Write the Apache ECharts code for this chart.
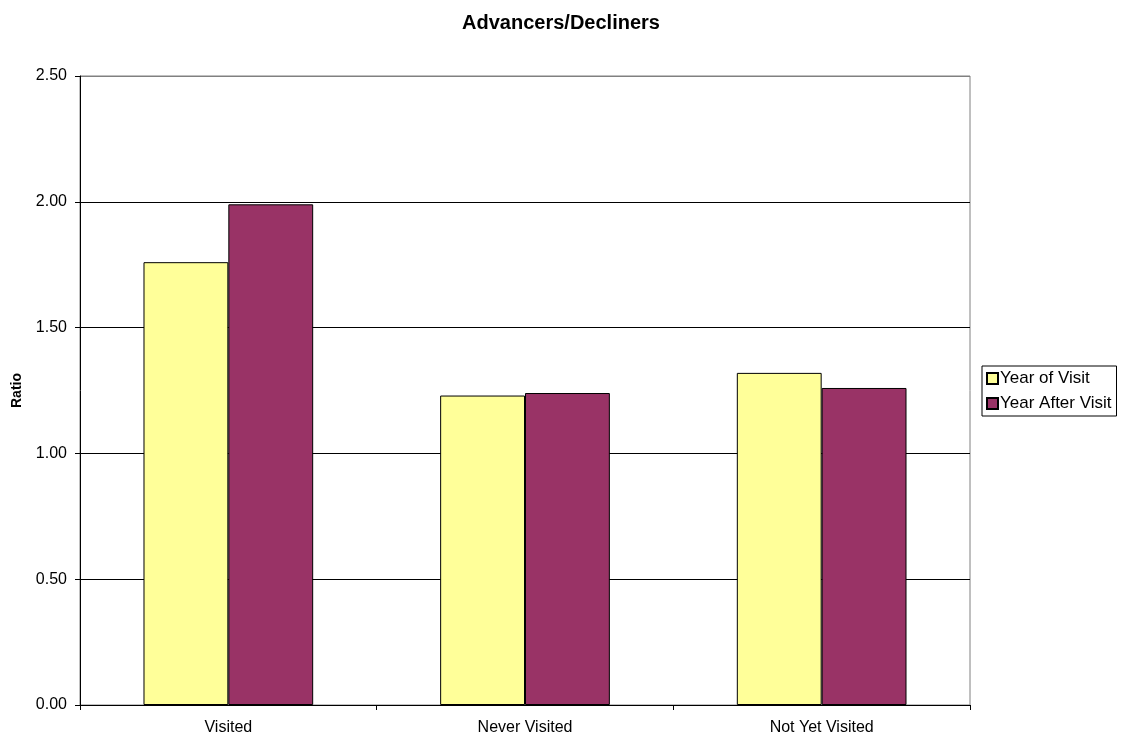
<!DOCTYPE html>
<html>
<head>
<meta charset="utf-8">
<script src="https://cdn.jsdelivr.net/npm/echarts@6/dist/echarts.min.js"></script>
<style>
  html, body { margin: 0; padding: 0; background: #fff; }
  #chart { width: 1122px; height: 740px; }
</style>
</head>
<body>
<div id="chart"></div>
<script>
// categories and values
const categories = ['Visited', 'Never Visited', 'Not Yet Visited'];
const yearOfVisit = [1.76, 1.23, 1.32];
const yearAfterVisit = [1.99, 1.24, 1.26];
const seriesNames = ['Year of Visit', 'Year After Visit'];

const font = 'Arial, "Liberation Sans", sans-serif';

const chart = echarts.init(document.getElementById('chart'));

chart.setOption({
  animation: false,
  textStyle: { fontFamily: font },
  title: {
    text: 'Advancers/Decliners',
    left: 'center',
    top: 8,
    textStyle: { fontSize: 20, fontWeight: 'bold', color: '#000', fontFamily: font },
  },
  legend: {
    data: seriesNames,
    orient: 'vertical',
    left: 982,
    top: 366,
    padding: [4, 5, 4, 4],
    itemGap: 8,
    itemWidth: 11,
    itemHeight: 11,
    borderColor: '#000',
    borderWidth: 1,
    icon: 'rect',
    textStyle: { fontSize: 17, color: '#000', padding: [0, 0, 0, -3] },
  },
  grid: {
    left: 80,
    right: 152,
    top: 76,
    bottom: 35,
    outerBoundsMode: 'none',
    show: true,
    borderColor: '#808080',
    borderWidth: 1,
  },
  xAxis: {
    type: 'category',
    data: categories,
    axisLine: { lineStyle: { color: '#000', width: 1 } },
    axisTick: { show: true, alignWithLabel: false, length: 5, lineStyle: { color: '#000' } },
    axisLabel: { fontSize: 16, color: '#000', margin: 15 },
  },
  yAxis: {
    type: 'value',
    min: 0,
    max: 2.5,
    interval: 0.5,
    name: 'Ratio',
    nameLocation: 'middle',
    nameGap: 56,
    nameTextStyle: { fontSize: 14, fontWeight: 'bold', color: '#000' },
    axisLine: { show: true, lineStyle: { color: '#000', width: 1 } },
    axisTick: { show: true, length: 5, lineStyle: { color: '#000' } },
    axisLabel: { fontSize: 16, color: '#000', margin: 13, formatter: (v) => v.toFixed(2) },
    splitLine: {
      show: true,
      lineStyle: { color: ['#000', '#000', '#000', '#000', '#000', '#808080'], width: 1 },
    },
  },
  series: [
    {
      name: seriesNames[0],
      type: 'bar',
      data: yearOfVisit,
      barWidth: '28.6%',
      barGap: '0%',
      itemStyle: { color: '#FFFF99', borderColor: '#000', borderWidth: 1 },
    },
    {
      name: seriesNames[1],
      type: 'bar',
      data: yearAfterVisit,
      barWidth: '28.6%',
      barGap: '0%',
      itemStyle: { color: '#993366', borderColor: '#000', borderWidth: 1 },
    },
  ],
});
</script>
</body>
</html>
